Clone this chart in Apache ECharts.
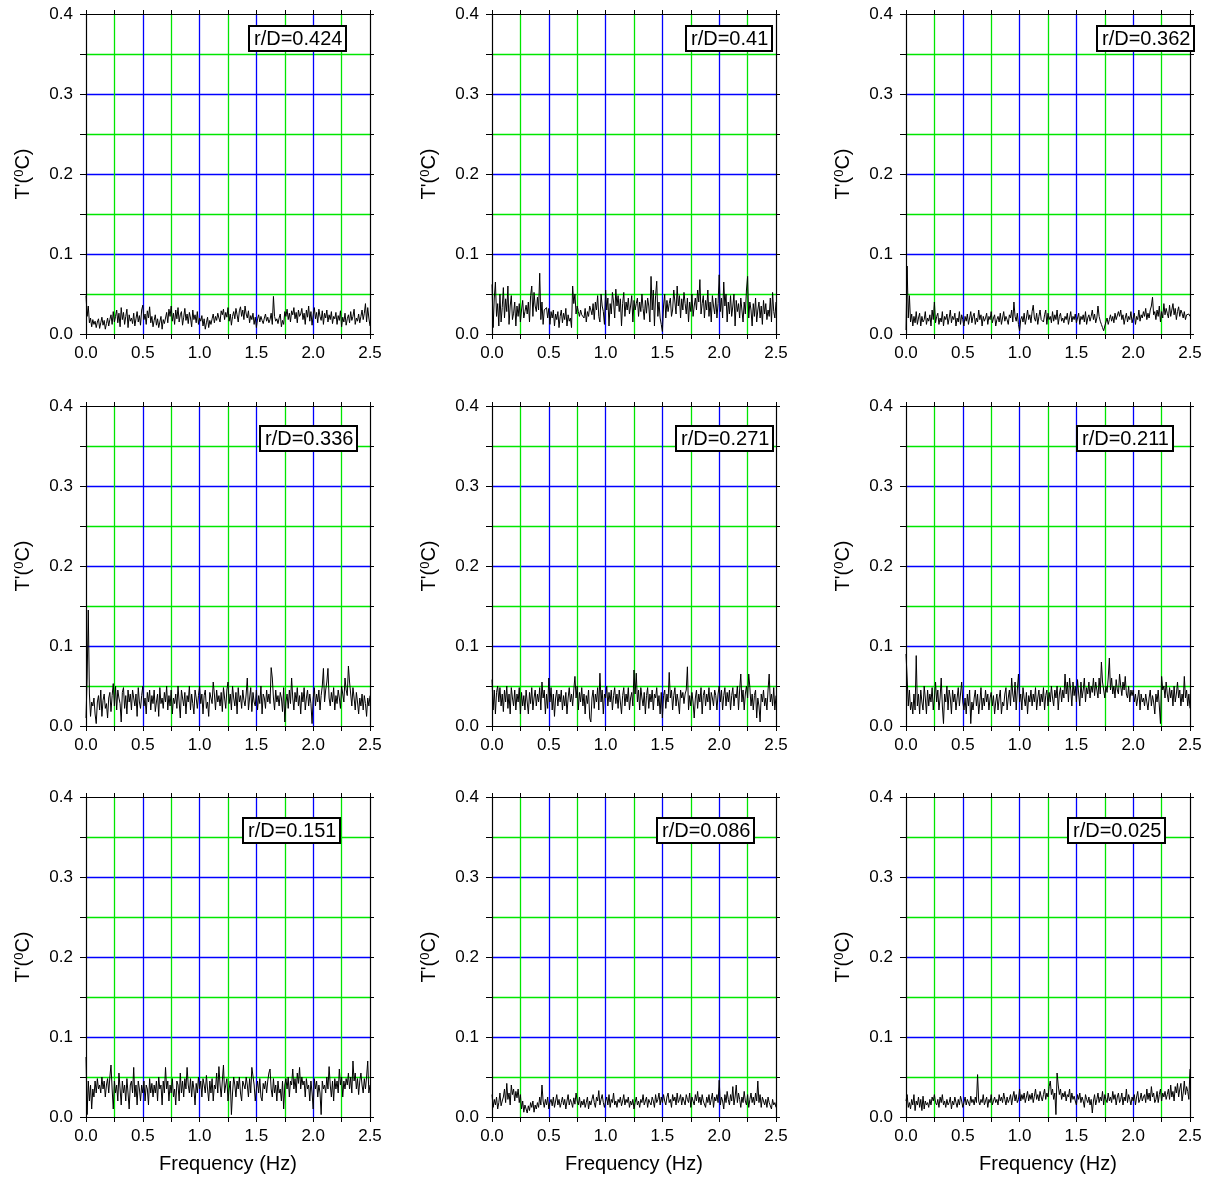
<!DOCTYPE html>
<html>
<head>
<meta charset="utf-8">
<script src="https://cdn.jsdelivr.net/npm/echarts@6/dist/echarts.min.js"></script>
<style>
  html, body { margin: 0; padding: 0; background: #fff; }
  #container { width: 1210px; height: 1178px; }
</style>
</head>
<body>
<div id="container"></div>
<script>
var myChart = echarts.init(document.getElementById('container'));

// frequency range of every spectrum (Hz), points evenly spaced over it (0.01 Hz)
var freqMax = 2.5;
var xTickLabels = ['0.0', '0.5', '1.0', '1.5', '2.0', '2.5'];
var yTickLabels = ['0.0', '0.1', '0.2', '0.3', '0.4'];
var rdLabels = ['r/D=0.424', 'r/D=0.41', 'r/D=0.362', 'r/D=0.336', 'r/D=0.271', 'r/D=0.211', 'r/D=0.151', 'r/D=0.086', 'r/D=0.025'];

// T' amplitude, in thousandths of a degree C
var mK = 0.001;
var rd424 = [48,22,35,14,20,9,18,12,16,8, 15,19,7,14,21,11,17,6,13,20, 10,18,24,12,28,15,22,30,14,26, 9,33,18,27,12,22,31,8,24,16,
  20,13,26,10,19,28,15,23,11,30, 36,18,25,12,29,20,34,14,22,9, 17,24,11,19,8,15,22,6,18,13, 20,27,14,31,22,35,16,26,12,30,
  19,33,15,24,28,11,21,32,17,25, 13,27,20,9,30,18,24,14,28,12, 20,16,23,10,19,6,14,21,8,17, 12,19,25,14,22,17,26,20,15,29,
  24,31,18,27,21,33,16,25,11,22, 28,19,32,24,15,29,34,22,30,18, 35,25,20,29,14,23,18,26,12,21, 8,19,24,15,22,17,13,20,25,16,
  21,14,18,26,12,47,22,16,19,13, 20,25,9,17,12,28,22,31,18,26, 15,29,24,33,19,27,14,30,22,25, 32,18,26,12,30,21,35,16,28,11,
  24,33,19,27,14,31,22,17,29,12, 26,20,30,15,24,18,28,13,22,19, 27,12,23,17,29,9,21,15,26,11, 19,24,14,28,17,22,31,12,20,16,
  25,14,22,30,18,26,38,15,33,20, 10];
var rd410 = [62,8,45,65,22,38,10,50,15,33, 58,20,44,28,60,12,35,48,18,26, 40,10,35,22,38,15,30,42,20,28, 36,25,40,15,48,60,22,52,35,28,
  46,30,76,18,40,12,30,28,33,20, 32,12,28,20,30,10,25,18,28,8, 22,30,14,26,18,32,10,24,16,20, 8,60,38,50,25,35,28,22,30,24,
  26,20,32,15,28,22,35,30,24,38, 18,40,30,48,22,15,50,35,28,12, 55,30,45,10,38,25,52,40,20,56, 35,48,28,44,10,38,52,22,40,30,
  45,25,35,48,15,42,30,38,45,22, 40,28,50,32,18,42,26,45,35,15, 72,30,55,10,48,66,22,40,20,12, 3,35,50,20,42,28,38,45,22,30,
  55,40,25,60,35,48,20,44,30,52, 38,25,45,15,40,28,50,22,35,45, 30,55,40,68,25,38,48,20,42,30, 55,22,40,15,48,35,25,45,20,38,
  74,28,45,20,65,35,50,15,40,25, 48,22,35,50,10,42,28,38,20,45, 30,15,40,25,55,72,20,40,30,10, 38,22,45,15,30,40,20,35,12,42,
  25,38,18,30,22,45,15,52,28,20, 40];
var rd362 = [5,85,20,48,15,25,10,22,14,28, 12,20,26,10,22,15,18,28,12,20, 16,24,10,30,18,40,14,22,26,12, 20,15,28,10,22,18,25,12,20,30,
  14,22,18,26,10,20,15,28,12,24, 18,10,22,16,25,12,20,28,14,22, 26,12,20,15,30,18,24,10,22,16, 20,26,12,22,18,28,14,20,24,10,
  18,22,15,26,12,20,28,16,22,18, 12,24,20,30,15,40,22,16,26,12, 4,18,22,15,26,12,20,30,18,24, 14,28,36,20,16,26,12,22,30,18,
  20,15,24,30,12,26,18,22,14,28, 16,24,18,30,12,22,26,16,20,14, 22,18,26,12,20,28,15,22,18,25, 14,20,26,12,22,18,24,15,28,12,
  20,24,16,22,30,18,25,14,20,35, 22,16,12,8,4,10,15,20,12,18, 24,16,22,14,26,18,20,28,22,30, 18,24,12,20,26,15,22,18,28,14,
  20,26,12,22,18,30,16,24,20,28, 22,32,18,26,20,30,35,46,24,28, 18,30,22,35,15,28,20,38,24,32, 26,20,36,22,30,38,24,32,18,28,
  34,22,30,26,20,28,18,24,22,25, 22];
var rd336 = [10,60,145,40,12,30,25,35,15,3, 30,38,20,45,12,32,40,22,28,10, 35,42,18,38,53,25,50,20,45,35, 28,5,42,48,22,38,15,45,30,40,
  20,45,35,25,40,12,48,30,22,38, 50,25,35,15,42,30,45,20,38,28, 45,18,30,40,12,48,28,35,22,42, 30,50,20,38,25,45,15,35,28,40,
  22,50,30,10,45,35,25,42,15,38, 30,50,20,40,28,15,45,35,22,38, 50,28,40,15,38,45,22,30,12,42, 35,28,55,40,20,45,30,38,25,42,
  18,48,35,22,45,55,28,40,20,50, 35,25,42,15,48,30,38,22,45,32, 25,40,60,20,35,48,18,42,30,25, 45,20,38,28,50,15,40,35,22,45,
  30,40,28,73,60,35,20,45,30,38, 25,42,35,18,48,5,30,40,22,45, 28,60,35,20,42,30,48,25,38,15, 42,30,48,20,35,45,25,40,28,3,
  35,48,25,40,30,45,20,38,50,72, 30,45,55,72,35,25,42,30,48,20, 38,28,45,35,22,50,40,30,60,45, 38,75,55,40,25,48,35,20,42,30,
  15,35,25,40,20,38,28,12,35,25, 38];
var rd271 = [58,20,45,15,42,50,30,48,25,40, 18,45,30,50,22,40,15,48,35,25, 45,20,40,30,48,15,42,25,38,20, 45,30,15,42,28,48,20,35,45,25,
  40,30,48,20,55,35,45,15,40,22, 60,30,48,20,40,12,35,45,25,40, 30,45,20,38,25,42,15,35,48,30, 40,25,45,62,35,50,20,42,30,48,
  25,40,15,38,28,45,10,5,35,45, 22,40,30,48,20,66,30,45,15,40, 35,50,25,42,30,45,20,38,48,28, 40,22,45,30,15,38,48,25,40,30,
  48,20,35,42,25,70,40,66,30,45, 20,48,35,25,42,15,38,48,22,40, 30,45,20,40,35,48,25,38,15,42, 10,38,45,22,40,30,67,35,45,20,
  38,48,25,40,30,15,45,35,42,28, 40,45,74,20,38,25,42,30,10,35, 45,22,40,30,48,15,38,45,25,40, 30,48,20,42,35,25,45,38,20,40,
  50,30,45,20,38,48,25,42,30,45, 20,38,48,25,40,35,50,20,45,65, 30,45,20,40,50,35,65,48,25,40, 20,38,45,10,35,25,5,40,30,45,
  25,35,20,45,65,30,40,25,48,20, 38];
var rd211 = [90,60,25,45,20,30,15,40,20,88, 25,40,15,45,30,20,50,35,15,45, 25,40,30,48,20,35,55,30,45,20, 35,60,25,3,40,30,50,20,45,35,
  15,45,30,40,20,35,48,25,40,55, 30,20,35,15,40,25,45,3,30,20, 35,45,25,40,15,30,48,20,35,25, 45,30,40,20,35,42,25,38,15,30,
  40,20,35,45,15,30,25,40,48,20, 35,45,25,60,40,30,55,20,45,65, 30,40,20,48,35,25,42,15,38,30, 45,25,40,30,48,20,35,45,25,40,
  30,48,20,38,45,25,42,30,50,35, 25,45,35,50,20,40,48,30,45,35, 65,40,55,30,60,45,25,55,38,50, 30,58,40,25,55,35,45,60,30,48,
  40,55,35,50,42,60,38,55,45,35, 60,40,80,55,45,35,50,42,60,85, 45,60,40,50,35,58,45,40,65,50, 38,55,45,62,40,35,50,30,45,38,
  45,30,40,25,35,45,20,40,30,35, 25,40,30,20,35,45,25,38,30,15, 40,30,45,25,3,62,45,50,35,55, 40,30,48,35,45,25,50,30,40,55,
  35,45,25,40,30,62,35,45,25,40, 22];
var rd151 = [75,3,45,20,40,10,35,25,45,30, 48,35,40,30,50,35,45,25,40,48, 30,50,65,35,10,45,30,40,20,55, 35,15,45,30,40,20,48,30,10,40,
  45,30,62,25,40,15,45,35,20,40, 30,45,20,40,35,15,48,30,42,25, 40,30,45,20,50,35,40,15,45,30, 62,35,45,20,40,30,48,25,35,15,
  45,40,20,55,30,45,25,48,35,62, 40,30,48,25,45,35,15,42,30,50, 35,45,25,48,40,30,52,35,20,45, 30,48,20,40,35,55,30,63,40,25,
  45,65,30,40,48,20,35,45,3,30, 50,40,25,45,35,50,30,20,45,40, 35,50,40,25,48,30,62,63,40,20, 35,45,30,48,25,20,42,35,45,30,
  45,55,60,35,25,48,30,40,20,45, 30,35,20,45,10,40,48,35,50,25, 45,40,60,35,48,30,55,42,62,35, 50,40,45,25,48,35,40,20,45,30,
  10,48,35,45,25,40,30,3,45,35, 40,30,50,35,63,40,25,45,20,48, 35,45,30,60,40,50,25,45,35,48, 40,55,35,50,30,70,45,55,35,48,
  28,45,55,40,30,48,35,50,70,30, 40];
var rd086 = [28,12,22,15,25,10,18,30,14,20, 25,35,18,42,22,30,15,40,28,35, 20,32,24,35,18,28,10,20,6,15, 10,5,14,8,18,12,20,6,15,10,
  18,12,25,15,40,20,12,22,15,25, 10,18,22,14,25,12,20,28,15,22, 12,18,25,15,22,10,20,28,15,22, 18,12,24,16,30,20,15,25,12,20,
  15,22,12,18,25,10,20,15,22,28, 18,12,25,20,33,15,22,28,18,12, 20,25,15,28,12,22,18,30,15,20, 12,22,18,25,14,20,28,15,22,18,
  25,12,20,15,22,10,18,25,15,20, 12,22,18,28,15,20,25,12,22,18, 15,25,20,12,28,18,22,30,15,25, 18,28,20,15,25,30,18,22,12,28,
  20,25,15,30,18,22,28,15,25,20, 15,28,22,18,30,12,25,20,15,28, 20,32,18,25,15,28,20,22,12,25, 18,28,15,22,30,12,25,20,28,18,
  46,15,25,20,10,28,18,32,22,15, 28,20,38,15,25,40,18,30,22,12, 25,18,32,20,15,28,12,22,30,18, 25,15,30,20,45,18,28,12,25,20,
  15,22,12,25,18,20,10,22,15,18, 12];
var rd025 = [20,28,12,18,10,22,15,28,8,20, 15,25,12,22,8,26,10,20,15,18, 12,22,15,25,20,28,18,15,22,12, 25,18,28,15,20,12,22,15,18,25,
  10,20,15,25,18,12,22,15,26,20, 12,18,25,15,22,20,14,26,18,22, 15,25,18,53,20,15,22,18,28,15, 20,25,12,22,18,28,15,20,25,18,
  22,15,28,20,25,18,30,22,15,25, 18,22,28,15,25,32,20,28,18,22, 35,20,28,22,30,18,25,32,20,28, 22,30,18,26,35,22,28,20,32,25,
  20,28,35,22,30,25,38,45,28,35, 22,30,3,55,40,28,35,22,30,25, 32,20,28,25,35,18,30,22,26,20, 15,28,22,30,18,25,20,12,28,22,
  18,25,15,22,5,20,28,15,22,30, 18,25,20,32,15,28,22,18,30,20, 25,18,32,22,28,15,25,30,18,22, 30,15,25,20,35,18,28,22,15,25,
  20,28,15,25,32,18,22,30,20,25, 28,18,35,22,30,20,38,25,30,18, 22,32,18,28,35,20,30,25,32,22, 28,35,22,40,25,32,20,38,30,42,
  25,35,42,20,30,45,28,38,32,22, 60];

var panels = [rd424, rd410, rd362, rd336, rd271, rd211, rd151, rd086, rd025];

var font = 'Liberation Sans, Arial, Helvetica, sans-serif';
var gridBlue = '#0000ff';
var gridGreen = '#00e600';
var colLeft = [86, 492, 906];
var rowTop = [14, 406, 797];
var plotW = 284, plotH = 320;
var boxPos = [[249, 26], [686, 26], [1097, 26], [260, 426], [676, 426], [1077, 426], [243, 818], [657, 818], [1068, 818]];

function xLabel(v) {
  return xTickLabels[Math.round(v * 2)];
}
function yLabel(v) {
  return yTickLabels[Math.round(v * 10)];
}

var grids = [], xAxes = [], yAxes = [], series = [], titles = [];

panels.forEach(function (vals, i) {
  var row = Math.floor(i / 3), col = i % 3;
  grids.push({ left: colLeft[col], top: rowTop[row], width: plotW, height: plotH });

  // bottom axis: blue lines every 0.5 Hz, green minor lines in between
  xAxes.push({
    type: 'value', gridIndex: i, min: 0, max: freqMax, interval: 0.5,
    name: row === 2 ? 'Frequency (Hz)' : '',
    nameLocation: 'middle', nameGap: 37,
    nameTextStyle: { fontFamily: font, fontSize: 20, color: '#000' },
    axisLine: { onZero: false, lineStyle: { color: '#000', width: 1.2 } },
    axisTick: { length: 5, lineStyle: { color: '#000' } },
    minorTick: { show: true, splitNumber: 2, length: 5, lineStyle: { color: '#000' } },
    axisLabel: { formatter: xLabel, margin: 11, fontFamily: font, fontSize: 17, color: '#000', showMinLabel: true, showMaxLabel: true },
    splitLine: { show: true, showMinLine: false, showMaxLine: false, lineStyle: { color: gridBlue, width: 1.3 } },
    minorSplitLine: { show: true, lineStyle: { color: gridGreen, width: 1.3 } }
  });
  xAxes.push({
    type: 'value', gridIndex: i, position: 'top', min: 0, max: freqMax, interval: 0.25,
    axisLine: { onZero: false, lineStyle: { color: '#000', width: 1.2 } },
    axisTick: { length: 4, lineStyle: { color: '#000' } },
    axisLabel: { show: false },
    splitLine: { show: false }
  });
  // left axis: blue lines every 0.1, green minor lines in between
  yAxes.push({
    type: 'value', gridIndex: i, min: 0, max: 0.4, interval: 0.1,
    name: "T'({sup|0}C)",
    nameLocation: 'middle', nameGap: 52,
    nameTextStyle: {
      fontFamily: font, fontSize: 20, color: '#000',
      rich: { sup: { fontFamily: font, fontSize: 13, color: '#000', verticalAlign: 'top', padding: [0, 0, 8, 0] } }
    },
    axisLine: { onZero: false, lineStyle: { color: '#000', width: 1.2 } },
    axisTick: { length: 6, lineStyle: { color: '#000' } },
    minorTick: { show: true, splitNumber: 2, length: 6, lineStyle: { color: '#000' } },
    axisLabel: { formatter: yLabel, margin: 13, fontFamily: font, fontSize: 17, color: '#000', showMinLabel: true, showMaxLabel: true },
    splitLine: { show: true, showMinLine: false, showMaxLine: false, lineStyle: { color: gridBlue, width: 1.3 } },
    minorSplitLine: { show: true, lineStyle: { color: gridGreen, width: 1.3 } }
  });
  yAxes.push({
    type: 'value', gridIndex: i, position: 'right', min: 0, max: 0.4, interval: 0.05,
    axisLine: { onZero: false, lineStyle: { color: '#000', width: 1.2 } },
    axisTick: { length: 4, lineStyle: { color: '#000' } },
    axisLabel: { show: false },
    splitLine: { show: false }
  });

  var pts = vals.map(function (v, j) {
    return [j * freqMax / (vals.length - 1), v * mK];
  });
  series.push({
    type: 'line', xAxisIndex: i * 2, yAxisIndex: i * 2, data: pts,
    showSymbol: false, symbol: 'none',
    lineStyle: { color: '#000', width: 1 },
    z: 3
  });

  titles.push({
    text: rdLabels[i], left: boxPos[i][0], top: boxPos[i][1],
    backgroundColor: '#fff', borderColor: '#000', borderWidth: 2,
    padding: [3, 4, 2, 5],
    textStyle: { fontFamily: font, fontSize: 20, fontWeight: 'normal', color: '#000' }
  });
});

var option = {
  backgroundColor: '#fff',
  animation: false,
  title: titles,
  grid: grids,
  xAxis: xAxes,
  yAxis: yAxes,
  series: series
};

myChart.setOption(option);
</script>
</body>
</html>
